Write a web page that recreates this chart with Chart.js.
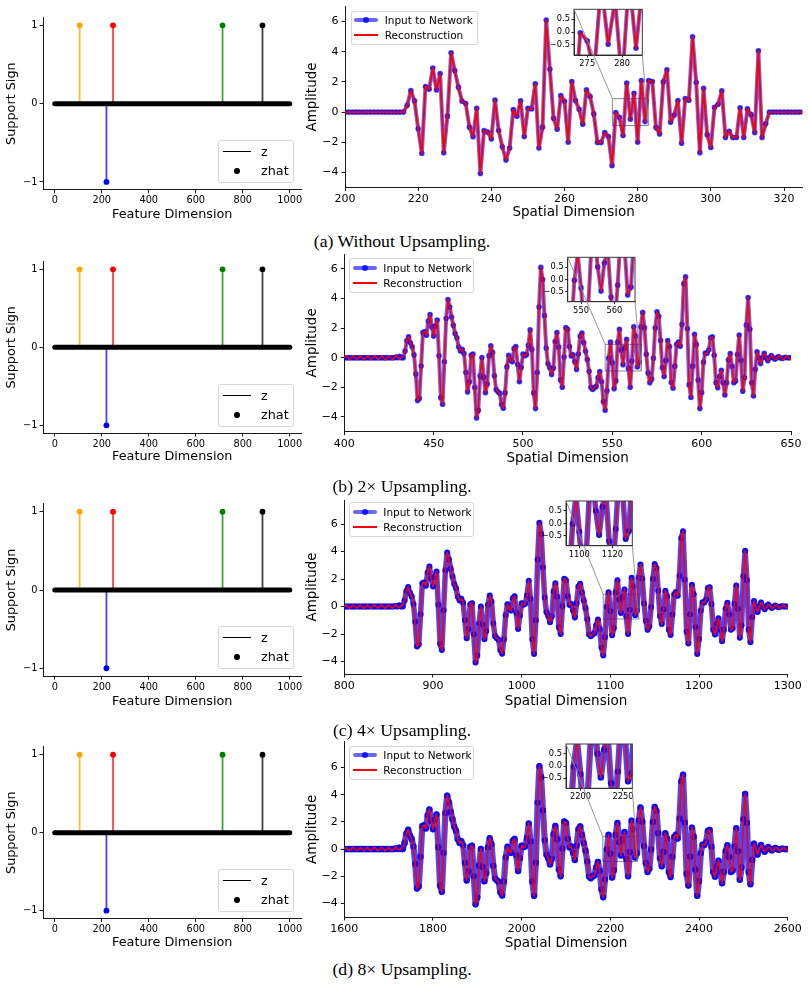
<!DOCTYPE html>
<html>
<head>
<meta charset="utf-8">
<title>Support recovery and signal reconstruction</title>
<script src="https://cdn.jsdelivr.net/npm/chart.js@4.4.1/dist/chart.umd.min.js"></script>
<style>
  html, body { margin: 0; padding: 0; background: #fff; }
  body { position: relative; width: 808px; height: 986px; overflow: hidden; font-family: "DejaVu Sans", sans-serif; color: #000; }
  canvas { position: absolute; }
  .cap { position: absolute; left: 0; width: 804px; text-align: center; font-family: "Liberation Serif", "Times New Roman", serif; font-size: 17.7px; line-height: 20px; white-space: nowrap; }
  .leg { position: absolute; box-sizing: border-box; background: rgba(255,255,255,0.85); border: 1px solid #d6d6d6; border-radius: 3px; }
  .leg div { position: absolute; white-space: nowrap; }
</style>
</head>
<body>
<script>
// -------------------- LEFT COLUMN DATA (support sign) --------------------
const featureTicks = [0, 200, 400, 600, 800, 1000];
const signTicks = [-1, 0, 1];
const featureSpan = [0, 1000];
const supportIdx = [106, 220, 248, 714, 884];
const supportSign = [1, -1, 1, 1, 1];
const supportColors = ['#ffa500', '#0000ff', '#ff0000', '#008000', '#000000'];
const leftLegend = ['z', 'zhat'];

// -------------------- RIGHT COLUMN DATA (signals) --------------------
// (a) original grid, x = 200..325
const ampA = [
  0, 0, 0, 0, 0, 0, 0, 0, 0, 0, 0, 0, 0, 0, 0, 0, 0,
  0.45, 1.42, 0.74, -1.1, -2.75, 1.7, 1.52, 2.92, 1.46, 2.55,
  -2.7, -0.27, 3.93, 2.75, 1.64, 0.72, 0.57, -1.0, -1.63, 0.25,
  -4.07, -1.23, -1.32, -1.78, 0.8, -1.22, -2.3, -3.17, -2.38, 0.17,
  -0.28, 0.75, -1.62, 0.25, 0.2, 1.88, -2.38, -1.0, 6.1, 2.84,
  -0.41, -1.13, 1.09, 0.72, -2.0, 2.03, 0.76, 0.19, -0.8, 1.47,
  1.03, -0.12, -2.02, -2.02, -1.36, -1.62, -3.55, -0.03, -0.34, -1.56,
  1.92, -0.47, 1.25, -2.0, 2.09, -0.63, 2.09, 2.03, -1.03, -1.45,
  2.0, 2.8, -0.68, -0.19, 0.76, -2.06, 0.9, 0.78, 4.99, 1.96,
  -2.69, 1.58, -1.51, -2.35, 0.32, 0.52, 1.41, -1.69, -1.27, -1.69,
  -1.69, 0.28, -1.69, 0.21, -0.17, -1.36, 4.06, -1.69, -0.78,
  0, 0, 0, 0, 0, 0, 0, 0, 0, 0
];

// (b)-(d) upsampled signal read at half-sample spacing (251 samples)
const ampUp = [
  0, 0, 0, 0, 0, 0, 0, 0, 0, 0,
  0, 0, 0, 0, 0, 0, 0, 0, 0, 0,
  0, 0, 0, 0, 0, 0, 0, 0, 0, 0.05,
  0, 0.1, 0, 0, 0.45, 1.14, 1.42, 1.01, 0.74, 0.19,
  -1.1, -2.9, -2.75, -0.56, 1.7, 1.76, 1.52, 2.48, 2.92, 2.07,
  1.46, 2.15, 2.55, 0.13, -2.7, -3.15, -0.27, 2.65, 3.93, 3.43,
  2.75, 2.19, 1.64, 1.34, 0.72, 0.45, 0.57, 0.28, -1.0, -2.31,
  -1.63, 0.17, 0.25, -2.01, -4.07, -3.56, -1.23, 0.01, -1.32, -2.37,
  -1.78, 0.13, 0.8, 0.36, -1.22, -2.16, -2.3, -2.41, -3.17, -3.42,
  -2.38, -0.62, 0.17, -0.15, -0.28, 0.61, 0.75, -0.46, -1.62, -0.67,
  0.25, 0.14, 0.2, 0.82, 1.88, 0.55, -2.38, -3.44, -1.0, 3.42,
  6.1, 5.28, 2.84, 0.66, -0.41, -0.68, -1.13, -0.72, 1.09, 1.7,
  0.72, -1.5, -2.0, 0.04, 2.03, 1.92, 0.76, 0.12, 0.19, -0.28,
  -0.8, 0.25, 1.47, 1.67, 1.03, 0.44, -0.12, -0.92, -2.02, -2.15,
  -2.02, -1.94, -1.36, -0.94, -1.62, -2.97, -3.55, -2.23, -0.03, 1.05,
  -0.34, -2.09, -1.56, 1.06, 1.92, 0.51, -0.47, 0.67, 1.25, -0.71,
  -2.0, -0.23, 2.09, 1.46, -0.63, -0.31, 2.09, 3.06, 2.03, 0.23,
  -1.03, -1.69, -1.45, -0.03, 2.0, 3.1, 2.8, 1.16, -0.68, -1.27,
  -0.19, 1.16, 0.76, -1.68, -2.06, -0.57, 0.9, 1.06, 0.78, 2.25,
  4.99, 5.47, 1.96, -1.82, -2.69, -0.57, 1.58, 0.9, -1.51, -3.44,
  -2.35, -0.3, 0.32, 0.3, 0.52, 1.35, 1.41, 0.17, -1.69, -2.03,
  -1.27, -0.85, -1.69, -2.52, -1.69, -0.15, 0.28, -0.58, -1.69, -1.57,
  0.21, 1.53, -0.17, -2.26, -1.36, 2.2, 4.06, 1.92, -1.69, -2.59,
  -0.78, 0.4, 0, -0.4, 0, 0.3, 0, -0.2, 0, 0.15,
  0, -0.1, 0, 0.08, 0, -0.05, 0, 0.03, 0, 0,
  0
];
// reconstruction differs from the input only by a small ripple in the flat parts
const reconLead = [0, 0.12, 0, -0.12, 0, 0.14, 0, -0.12, 0, 0.12, 0, -0.14, 0, 0.12, 0, -0.12, 0,
  0.14, 0, -0.12, 0, 0.12, 0, -0.14, 0, 0.12, 0, -0.12, 0, 0.18, 0, -0.08, 0.05, 0.1];
const reconTail = [0.4, 0, -0.4, 0, 0.3, 0.05, -0.2, -0.05, 0.15, 0.1, -0.12, -0.1, 0.1, 0.12,
  -0.1, -0.12, 0.08, 0.12, -0.05, -0.1];
const reconUp = reconLead.concat(ampUp.slice(reconLead.length, ampUp.length - reconTail.length), reconTail);

const sampleStart = [200, 400, 800, 1600];
const sampleStep = [1, 1, 2, 4];
const spatialTicks = [
  [200, 220, 240, 260, 280, 300, 320],
  [400, 450, 500, 550, 600, 650],
  [800, 900, 1000, 1100, 1200, 1300],
  [1600, 1800, 2000, 2200, 2400, 2600]
];
const ampTicks = [-4, -2, 0, 2, 4, 6];
const zoomTicks = [[275, 280], [550, 560], [1100, 1120], [2200, 2250]];
const zoomAmpTicks = [-0.5, 0, 0.5];
const rightLegend = ['Input to Network', 'Reconstruction'];
const captions = ['(a) Without Upsampling.', '(b) 2\u00d7 Upsampling.', '(c) 4\u00d7 Upsampling.', '(d) 8\u00d7 Upsampling.'];

// -------------------- LAYOUT --------------------
const leftRows = [
  { t: 17.5, b: 189.8, title: 24.7, leg: 140 },
  { t: 261.5, b: 433.1, title: 23.6, leg: 384 },
  { t: 503.9, b: 676.1, title: 25.2, leg: 626 },
  { t: 746.9, b: 918.5, title: 24.5, leg: 869 }
];
const rightRows = [
  { l: 345, r: 802.3, t: 6.5, b: 187.5, y: [-5, 7], x: [200, 325], title: 24.5, leg: [350.7, 10.7, 127.6],
    zx: [273.1, 282.9], zy: [-0.89, 0.89], inset: { l: 574, r: 642.3, t: 9.3, b: 55 }, cap: 241, lw: 4, pr: 2.8 },
  { l: 344.3, r: 791, t: 254.1, b: 431.7, y: [-5, 7], x: [400, 650], title: 26.6, leg: [349.3, 258.3, 124.7],
    zx: [546, 566.2], zy: [-0.9, 0.9], inset: { l: 567.7, r: 635, t: 257.3, b: 301.7 }, cap: 486, lw: 4, pr: 2.8 },
  { l: 344.3, r: 787.7, t: 500, b: 674, y: [-4.9, 7.75], x: [800, 1300], title: 27.5, leg: [349.3, 502.3, 124.7],
    zx: [1092, 1132], zy: [-0.9, 0.9], inset: { l: 566, r: 632.3, t: 501, b: 545.7 }, cap: 730, lw: 5.5, pr: 3 },
  { l: 344.3, r: 787.7, t: 741.7, b: 917, y: [-5, 7.9], x: [1600, 2600], title: 26.3, leg: [349.3, 745.7, 124.7],
    zx: [2183, 2261], zy: [-0.92, 0.91], inset: { l: 566, r: 632.3, t: 744, b: 788.3 }, cap: 969, lw: 6.2, pr: 3.2 }
];

Chart.defaults.font.family = '"DejaVu Sans", sans-serif';
Chart.defaults.color = '#000';

const fmtMinus = v => String(v).replace('-', '\u2212');
const fmtOne = v => Number(v).toFixed(1).replace('-', '\u2212');
const rgba = (hex, a) => { const n = parseInt(hex.slice(1), 16); return `rgba(${n >> 16},${(n >> 8) & 255},${n & 255},${a})`; };
const pts = (vals, start, step) => vals.map((v, i) => ({ x: start + i * step, y: v }));

function addCanvas(x, y, w, h) {
  const c = document.createElement('canvas');
  c.width = w; c.height = h;
  c.style.left = x + 'px'; c.style.top = y + 'px';
  c.style.width = w + 'px'; c.style.height = h + 'px';
  document.body.appendChild(c);
  return c;
}

function axis(o) {
  return {
    type: 'linear', min: o.min, max: o.max,
    afterBuildTicks: s => { s.ticks = o.ticks.map(v => ({ value: v })); },
    afterFit: s => {
      if (o.horiz) s.height = o.size; else s.width = o.size;
      s.paddingLeft = 0; s.paddingRight = 0; s.paddingTop = 0; s.paddingBottom = 0;
    },
    grid: { drawOnChartArea: false, drawTicks: true, tickLength: o.tick, color: '#000', tickWidth: 0.9 },
    border: { display: true, color: '#000', width: 0.9 },
    ticks: { autoSkip: false, maxRotation: 0, minRotation: 0, padding: o.pad, color: '#000',
             font: { size: o.font }, callback: o.fmt || fmtMinus },
    title: o.title ? { display: true, text: o.title, color: '#000', font: { size: o.tsize },
             padding: o.horiz ? { top: 0, bottom: o.tpad } : { top: o.tpad, bottom: 0 } } : { display: false }
  };
}

function baseOptions(cv, area, scales) {
  return {
    responsive: false, animation: false, events: [],
    layout: { autoPadding: false, padding: { top: area.t - cv.y, right: cv.x + cv.w - area.r, left: 0, bottom: 0 } },
    plugins: { legend: { display: false }, tooltip: { enabled: false } },
    elements: { line: { tension: 0, borderJoinStyle: 'round', borderCapStyle: 'round' } },
    scales
  };
}

function el(parent, css, text) {
  const d = document.createElement('div');
  Object.assign(d.style, css);
  if (text) d.textContent = text;
  parent.appendChild(d);
  return d;
}

// -------------------- LEFT PANELS --------------------
leftRows.forEach(row => {
  const area = { l: 43, r: 301.5, t: row.t, b: row.b };
  const cv = { x: 0, y: Math.floor(row.t - 8), w: 310 };
  cv.h = Math.ceil(row.b + 38) - cv.y;
  const lhX = 12.8 * 1.2 / 2;
  const canvas = addCanvas(cv.x, cv.y, cv.w, cv.h);

  const stems = supportIdx.map((ix, k) => ({
    data: [{ x: ix, y: 0 }, { x: ix, y: supportSign[k] }],
    borderColor: rgba(supportColors[k], 0.75), borderWidth: 1.8,
    pointRadius: [0, 2.9], pointBackgroundColor: supportColors[k], pointBorderWidth: 0,
    order: 1, clip: 0
  }));
  const band = {
    data: [{ x: featureSpan[0], y: 0 }, { x: featureSpan[1], y: 0 }],
    borderColor: '#000', borderWidth: 5, borderCapStyle: 'round', pointRadius: 0, order: 0, clip: 0
  };

  new Chart(canvas, {
    type: 'line',
    data: { datasets: [band, ...stems] },
    options: baseOptions(cv, area, {
      x: axis({ horiz: true, min: -50, max: 1050, ticks: featureTicks, size: cv.y + cv.h - area.b, tick: 3.5, pad: 1.5,
                font: 9.8, title: 'Feature Dimension', tsize: 12.8, tpad: (cv.y + cv.h) - (row.b + row.title) - lhX }),
      y: axis({ min: -1.1, max: 1.1, ticks: signTicks, size: area.l - cv.x, tick: 3.5, pad: 2,
                font: 9.8, title: 'Support Sign', tsize: 12.8, tpad: 11.7 - lhX })
    })
  });

  // legend
  const box = el(document.body, { left: '218px', top: row.leg + 'px', width: '76px', height: '43px' });
  box.className = 'leg';
  el(box, { left: '4.3px', top: (10.5 - 0.75) + 'px', width: '27.4px', height: '1.5px', background: '#000' });
  el(box, { left: '15px', top: (30 - 2.9) + 'px', width: '5.8px', height: '5.8px', background: '#000', borderRadius: '50%' });
  el(box, { left: '42px', top: (10.5 - 8) + 'px', fontSize: '12.8px', lineHeight: '16px' }, leftLegend[0]);
  el(box, { left: '42px', top: (30 - 8) + 'px', fontSize: '12.8px', lineHeight: '16px' }, leftLegend[1]);
});

// -------------------- RIGHT PANELS --------------------
rightRows.forEach((row, i) => {
  const amp = i === 0 ? ampA : ampUp;
  const rec = i === 0 ? ampA : reconUp;
  const start = sampleStart[i], step = sampleStep[i];
  const dense = i >= 2;
  const lhX = 13.5 * 1.2 / 2;

  const cv = { x: 300, y: Math.max(0, Math.floor(row.t - 6)), w: 508 };
  cv.h = Math.ceil(row.b + 40) - cv.y;
  const canvas = addCanvas(cv.x, cv.y, cv.w, cv.h);

  const seriesStyle = () => ([
    { label: rightLegend[0], data: pts(amp, start, step),
      borderColor: dense ? 'rgba(0,0,255,0.72)' : 'rgba(0,0,255,0.6)', borderWidth: row.lw,
      pointRadius: row.pr, pointBackgroundColor: dense ? 'rgba(0,0,255,0.85)' : 'rgba(0,0,255,0.75)',
      pointBorderWidth: 0, order: 2, clip: 0 },
    { label: rightLegend[1], data: pts(rec, start, step), borderColor: '#ff0000', borderWidth: i === 0 ? 1.9 : 1.6,
      pointRadius: 0, order: 1, clip: 0 }
  ]);

  const zoomRect = {
    id: 'zoomRect',
    beforeDatasetsDraw(c) {
      const { ctx, scales: { x, y } } = c;
      const x0 = x.getPixelForValue(row.zx[0]), x1 = x.getPixelForValue(row.zx[1]);
      const y0 = y.getPixelForValue(row.zy[1]), y1 = y.getPixelForValue(row.zy[0]);
      ctx.save();
      ctx.strokeStyle = '#8a8a8a'; ctx.lineWidth = 1;
      ctx.strokeRect(x0, y0, x1 - x0, y1 - y0);
      ctx.restore();
    }
  };

  const main = new Chart(canvas, {
    type: 'line',
    data: { datasets: seriesStyle() },
    options: baseOptions(cv, row, {
      x: axis({ horiz: true, min: row.x[0], max: row.x[1], ticks: spatialTicks[i], size: cv.y + cv.h - row.b, tick: 3.5,
                pad: 2, font: 11, title: 'Spatial Dimension', tsize: 13.5, tpad: (cv.y + cv.h) - (row.b + row.title) - lhX }),
      y: axis({ min: row.y[0], max: row.y[1], ticks: ampTicks, size: row.l - cv.x, tick: 3.5, pad: 3,
                font: 11, title: 'Amplitude', tsize: 13.5, tpad: 12.5 - lhX })
    }),
    plugins: [zoomRect]
  });

  // zoomed inset
  const mx = main.scales.x, my = main.scales.y;
  const rect = {
    l: cv.x + mx.getPixelForValue(row.zx[0]), r: cv.x + mx.getPixelForValue(row.zx[1]),
    t: cv.y + my.getPixelForValue(row.zy[1]), b: cv.y + my.getPixelForValue(row.zy[0])
  };
  const ib = row.inset;
  const icv = { x: Math.floor(ib.l - 34), y: Math.max(0, Math.floor(ib.t - 10)) };
  icv.w = Math.ceil(Math.max(ib.r, rect.r) + 4) - icv.x;
  icv.h = Math.ceil(Math.max(ib.b + 16, rect.b + 4)) - icv.y;
  const icanvas = addCanvas(icv.x, icv.y, icv.w, icv.h);

  const insetFrame = {
    id: 'insetFrame',
    beforeDraw(c) {
      const a = c.chartArea, ctx = c.ctx;
      ctx.save(); ctx.fillStyle = '#fff';
      ctx.fillRect(a.left, a.top, a.right - a.left, a.bottom - a.top);
      ctx.restore();
    },
    afterDraw(c) {
      const a = c.chartArea, ctx = c.ctx;
      ctx.save();
      ctx.strokeStyle = '#3a3a3a'; ctx.lineWidth = 1;
      ctx.strokeRect(a.left, a.top, a.right - a.left, a.bottom - a.top);
      ctx.strokeStyle = '#8a8a8a'; ctx.lineWidth = 0.9;
      ctx.beginPath();
      ctx.moveTo(a.left, a.top); ctx.lineTo(rect.l - icv.x, rect.t - icv.y);
      ctx.moveTo(a.right, a.bottom); ctx.lineTo(rect.r - icv.x, rect.b - icv.y);
      ctx.stroke();
      ctx.restore();
    }
  };

  new Chart(icanvas, {
    type: 'line',
    data: { datasets: seriesStyle() },
    options: baseOptions(icv, ib, {
      x: axis({ horiz: true, min: row.zx[0], max: row.zx[1], ticks: zoomTicks[i], size: icv.y + icv.h - ib.b,
                tick: 2.5, pad: 1.5, font: 8.3 }),
      y: axis({ min: row.zy[0], max: row.zy[1], ticks: zoomAmpTicks, size: ib.l - icv.x, tick: 2.5, pad: 1.5,
                font: 8.3, fmt: fmtOne })
    }),
    plugins: [insetFrame]
  });

  // legend
  const [lx, ly, lw] = row.leg;
  const box = el(document.body, { left: lx + 'px', top: ly + 'px', width: lw + 'px', height: '34.3px' });
  box.className = 'leg';
  el(box, { left: '2.5px', top: (8.5 - 2) + 'px', width: '24px', height: '4px', background: 'rgba(0,0,255,0.6)', borderRadius: '2px' });
  el(box, { left: (14.5 - 2.8) + 'px', top: (8.5 - 2.8) + 'px', width: '5.6px', height: '5.6px', background: 'rgba(0,0,255,0.8)', borderRadius: '50%' });
  el(box, { left: '2.5px', top: (23.5 - 0.85) + 'px', width: '24px', height: '1.7px', background: '#ff0000' });
  el(box, { left: '33px', top: (8.5 - 7) + 'px', fontSize: '10.5px', lineHeight: '14px' }, rightLegend[0]);
  el(box, { left: '33px', top: (23.5 - 7) + 'px', fontSize: '10.5px', lineHeight: '14px' }, rightLegend[1]);

  // caption
  const cap = el(document.body, { top: (row.cap - 10) + 'px' }, captions[i]);
  cap.className = 'cap';
});
</script>
</body>
</html>
